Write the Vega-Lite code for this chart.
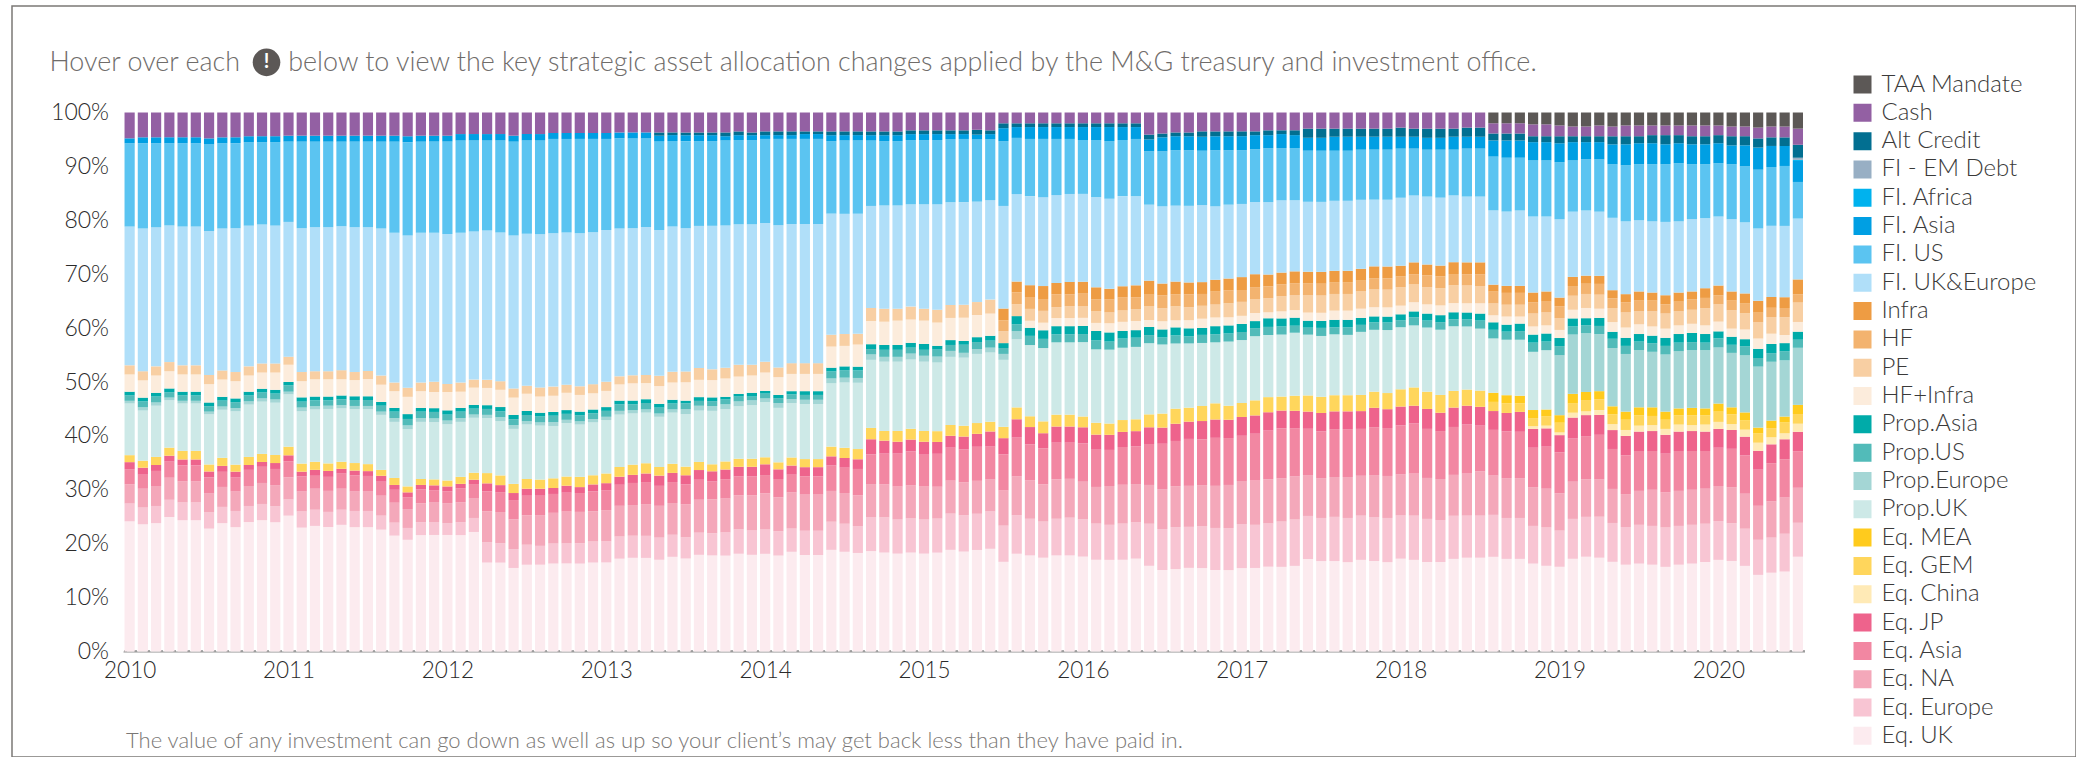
{"$schema":"https://vega.github.io/schema/vega-lite/v6.json","width":2064,"height":751,"autosize":"none","padding":{"left":12,"top":6,"right":0,"bottom":0},"background":"white","config":{"font":"Lato","view":{"stroke":"#7b7875","strokeWidth":1.5}},"title":{"text":"Hover over each \u2003\u2004\u2006 below to view the key strategic asset allocation changes applied by the M&G treasury and investment office.","anchor":"start","frame":"group","dx":37.5,"dy":28.5,"offset":-63.5,"baseline":"alphabetic","fontSize":26.9,"fontWeight":300,"color":"#6f6c6a"},"datasets":{"series":[{"key":"taa","label":"TAA Mandate","rank":24},{"key":"cash","label":"Cash","rank":23},{"key":"alt","label":"Alt Credit","rank":22},{"key":"fem","label":"FI - EM Debt","rank":21},{"key":"faf","label":"FI. Africa","rank":20},{"key":"fas","label":"FI. Asia","rank":19},{"key":"fus","label":"FI. US","rank":18},{"key":"fuk","label":"FI. UK&Europe","rank":17},{"key":"inf","label":"Infra","rank":16},{"key":"hf","label":"HF","rank":15},{"key":"pe","label":"PE","rank":14},{"key":"hfi","label":"HF+Infra","rank":13},{"key":"pas","label":"Prop.Asia","rank":12},{"key":"pus","label":"Prop.US","rank":11},{"key":"peu","label":"Prop.Europe","rank":10},{"key":"puk","label":"Prop.UK","rank":9},{"key":"mea","label":"Eq. MEA","rank":8},{"key":"gem","label":"Eq. GEM","rank":7},{"key":"cn","label":"Eq. China","rank":6},{"key":"jp","label":"Eq. JP","rank":5},{"key":"asia","label":"Eq. Asia","rank":4},{"key":"na","label":"Eq. NA","rank":3},{"key":"eur","label":"Eq. Europe","rank":2},{"key":"uk","label":"Eq. UK","rank":1}],"alloc":[
{"month":"2010-01","uk":24.2,"eur":3.3,"na":3.6,"asia":2.8,"jp":1.3,"gem":1.3,"puk":9.6,"peu":0.5,"pus":1,"pas":0.7,"hfi":3.2,"pe":1.7,"fuk":25.8,"fus":15.5,"fas":0.9,"cash":4.8},
{"month":"2010-02","uk":23.6,"eur":3.1,"na":3.5,"asia":2.6,"jp":1.3,"gem":1.3,"puk":9.3,"peu":0.6,"pus":1.1,"pas":0.7,"hfi":3.2,"pe":1.7,"fuk":26.5,"fus":15.8,"fas":1.1,"cash":4.6},
{"month":"2010-03","uk":23.8,"eur":3.2,"na":3.7,"asia":2.8,"jp":1.1,"gem":1.5,"puk":9.5,"peu":0.6,"pus":1.1,"pas":0.7,"hfi":3.2,"pe":1.7,"fuk":25.8,"fus":15.6,"fas":1.1,"cash":4.6},
{"month":"2010-04","uk":25,"eur":3.2,"na":4.1,"asia":3,"jp":1.1,"gem":1.5,"puk":8.8,"peu":0.5,"pus":1,"pas":0.7,"hfi":3.2,"pe":1.7,"fuk":25.4,"fus":15.3,"fas":1.1,"cash":4.6},
{"month":"2010-05","uk":24.4,"eur":3.3,"na":3.9,"asia":3,"jp":1.1,"gem":1.6,"puk":8.8,"peu":0.5,"pus":1,"pas":0.7,"hfi":3.2,"pe":1.7,"fuk":25.8,"fus":15.5,"fas":1.1,"cash":4.6},
{"month":"2010-06","uk":24.4,"eur":3.3,"na":3.9,"asia":3,"jp":1.1,"gem":1.6,"puk":8.8,"peu":0.5,"pus":1,"pas":0.7,"hfi":3.2,"pe":1.7,"fuk":25.8,"fus":15.5,"fas":1.1,"cash":4.6},
{"month":"2010-07","uk":22.8,"eur":3,"na":3.5,"asia":3,"jp":1.1,"gem":1.3,"puk":9.3,"peu":0.5,"pus":1,"pas":0.7,"hfi":3.4,"pe":1.7,"fuk":26.7,"fus":16.1,"fas":1.1,"cash":4.8},
{"month":"2010-08","uk":23.8,"eur":3,"na":3.7,"asia":2.8,"jp":1.1,"gem":1.5,"puk":8.9,"peu":0.6,"pus":1.1,"pas":0.7,"hfi":3.2,"pe":1.7,"fuk":26.3,"fus":15.8,"fas":1.1,"cash":4.6},
{"month":"2010-09","uk":23.1,"eur":3,"na":3.6,"asia":2.6,"jp":1.1,"gem":1.3,"puk":9.9,"peu":0.6,"pus":1.1,"pas":0.7,"hfi":3.2,"pe":1.7,"fuk":26.7,"fus":15.8,"fas":1.1,"cash":4.6},
{"month":"2010-10","uk":24,"eur":3,"na":3.7,"asia":3,"jp":0.9,"gem":1.5,"puk":9.7,"peu":0.6,"pus":1.1,"pas":0.7,"hfi":3,"pe":1.7,"fuk":26.1,"fus":15.5,"fas":1.1,"cash":4.4},
{"month":"2010-11","uk":24.4,"eur":3,"na":3.9,"asia":3,"jp":0.9,"gem":1.5,"puk":9.7,"peu":0.6,"pus":1.1,"pas":0.7,"hfi":3,"pe":1.7,"fuk":25.8,"fus":15.3,"fas":1.1,"cash":4.4},
{"month":"2010-12","uk":24,"eur":3,"na":3.9,"asia":3,"jp":1.1,"gem":1.5,"puk":9.7,"peu":0.6,"pus":1.1,"pas":0.7,"hfi":3.2,"pe":1.7,"fuk":25.6,"fus":15.5,"fas":1.1,"cash":4.4},
{"month":"2011-01","uk":25.2,"eur":3,"na":4.1,"asia":3,"jp":1.1,"gem":1.6,"puk":9.7,"peu":0.5,"pus":1.2,"pas":0.6,"hfi":3.2,"pe":1.5,"fuk":25,"fus":14.9,"fas":1.1,"cash":4.3},
{"month":"2011-02","uk":23,"eur":3,"na":3.7,"asia":2.8,"jp":0.9,"gem":1.5,"puk":9.7,"peu":0.7,"pus":1.1,"pas":0.8,"hfi":3,"pe":1.7,"fuk":26.7,"fus":16.1,"fas":1.1,"cash":4.3},
{"month":"2011-03","uk":23.3,"eur":3,"na":3.9,"asia":2.4,"jp":1.1,"gem":1.5,"puk":9.7,"peu":0.6,"pus":1.1,"pas":0.7,"hfi":3.2,"pe":1.5,"fuk":26.7,"fus":15.9,"fas":1.1,"cash":4.3},
{"month":"2011-04","uk":23.1,"eur":2.8,"na":3.9,"asia":2.6,"jp":1.1,"gem":1.4,"puk":10.1,"peu":0.6,"pus":1,"pas":0.7,"hfi":3.2,"pe":1.5,"fuk":26.7,"fus":15.9,"fas":1.1,"cash":4.3},
{"month":"2011-05","uk":23.5,"eur":2.8,"na":3.9,"asia":2.8,"jp":0.9,"gem":1.3,"puk":9.9,"peu":0.6,"pus":1.1,"pas":0.7,"hfi":3,"pe":1.7,"fuk":26.7,"fus":15.7,"fas":1.1,"cash":4.3},
{"month":"2011-06","uk":23.1,"eur":3,"na":3.6,"asia":3,"jp":0.9,"gem":1.4,"puk":10,"peu":0.6,"pus":1.1,"pas":0.7,"hfi":3,"pe":1.5,"fuk":26.9,"fus":15.9,"fas":1.1,"cash":4.3},
{"month":"2011-07","uk":23.1,"eur":3,"na":3.7,"asia":2.8,"jp":0.9,"gem":1.3,"puk":10.2,"peu":0.6,"pus":1.1,"pas":0.7,"hfi":3.2,"pe":1.5,"fuk":26.7,"fus":15.9,"fas":1.1,"cash":4.3},
{"month":"2011-08","uk":22.6,"eur":2.6,"na":3.7,"asia":2.6,"jp":1.1,"gem":1.1,"puk":10.2,"peu":0.6,"pus":1.1,"pas":0.7,"hfi":3.2,"pe":1.7,"fuk":27.3,"fus":16.1,"fas":1.1,"cash":4.3},
{"month":"2011-09","uk":21.5,"eur":2.4,"na":3.7,"asia":2.4,"jp":0.9,"gem":1.3,"puk":10.4,"peu":0.7,"pus":1.2,"pas":0.7,"hfi":3.1,"pe":1.6,"fuk":27.8,"fus":16.9,"fas":1.1,"cash":4.3},
{"month":"2011-10","uk":20.7,"eur":2.2,"na":3.5,"asia":2.2,"jp":0.9,"gem":1.1,"puk":10.6,"peu":0.7,"pus":1.2,"pas":0.9,"hfi":3.2,"pe":1.7,"fuk":28.2,"fus":17.3,"fas":1.1,"cash":4.4},
{"month":"2011-11","uk":21.6,"eur":2.4,"na":3.5,"asia":2.6,"jp":0.8,"gem":1.1,"puk":10.6,"peu":0.7,"pus":1.2,"pas":0.7,"hfi":3.1,"pe":1.6,"fuk":27.8,"fus":16.9,"fas":1.1,"cash":4.3},
{"month":"2011-12","uk":21.6,"eur":2.4,"na":3.7,"asia":2.2,"jp":0.9,"gem":1.1,"puk":10.6,"peu":0.7,"pus":1.2,"pas":0.7,"hfi":3,"pe":1.9,"fuk":27.6,"fus":16.9,"fas":1.1,"cash":4.3},
{"month":"2012-01","uk":21.6,"eur":2.2,"na":3.7,"asia":2.2,"jp":0.9,"gem":1.1,"puk":10.4,"peu":0.7,"pus":1.1,"pas":0.8,"hfi":3.4,"pe":1.5,"fuk":27.8,"fus":17.1,"fas":1.1,"cash":4.3},
{"month":"2012-02","uk":21.6,"eur":2.4,"na":3.7,"asia":2.6,"jp":0.8,"gem":1.3,"puk":10.2,"peu":0.7,"pus":1.2,"pas":0.7,"hfi":3,"pe":1.7,"fuk":27.8,"fus":17.1,"fas":1.2,"cash":4},
{"month":"2012-03","uk":22.2,"eur":2.6,"na":3.7,"asia":2.6,"jp":0.8,"gem":1.3,"puk":10.2,"peu":0.6,"pus":1.1,"pas":0.7,"hfi":3.2,"pe":1.5,"fuk":27.5,"fus":16.9,"fas":1.2,"cash":4},
{"month":"2012-04","uk":16.5,"eur":3.8,"na":5.7,"asia":3.7,"jp":1.5,"gem":1.9,"puk":10.2,"peu":0.6,"pus":1.1,"pas":0.7,"hfi":3.2,"pe":1.5,"fuk":27.7,"fus":16.7,"fas":1.2,"cash":4},
{"month":"2012-05","uk":16.5,"eur":3.6,"na":5.8,"asia":3.7,"jp":1.3,"gem":1.8,"puk":10.1,"peu":0.7,"pus":1.1,"pas":0.8,"hfi":3.2,"pe":1.6,"fuk":27.6,"fus":17.1,"fas":1.2,"cash":4},
{"month":"2012-06","uk":15.5,"eur":3.5,"na":5.5,"asia":3.6,"jp":1.3,"gem":1.7,"puk":10.2,"peu":0.7,"pus":1.1,"pas":0.8,"hfi":3.2,"pe":1.7,"fuk":28.4,"fus":17.4,"fas":1.1,"cash":4.3},
{"month":"2012-07","uk":16.1,"eur":3.7,"na":5.5,"asia":3.6,"jp":1.3,"gem":1.8,"puk":10.1,"peu":0.6,"pus":1.2,"pas":0.7,"hfi":3.2,"pe":1.5,"fuk":28.2,"fus":17.3,"fas":1.2,"cash":4},
{"month":"2012-08","uk":16.1,"eur":3.5,"na":5.7,"asia":3.6,"jp":1.3,"gem":1.7,"puk":10,"peu":0.6,"pus":1.1,"pas":0.7,"hfi":3,"pe":1.7,"fuk":28.4,"fus":17.4,"fas":1.2,"cash":4},
{"month":"2012-09","uk":16.3,"eur":3.7,"na":5.7,"asia":3.5,"jp":1.1,"gem":1.8,"puk":9.7,"peu":0.7,"pus":1.2,"pas":0.7,"hfi":3,"pe":1.7,"fuk":28.4,"fus":17.5,"fas":1.1,"cash":3.8},
{"month":"2012-10","uk":16.3,"eur":3.7,"na":5.9,"asia":3.5,"jp":1.3,"gem":1.7,"puk":9.9,"peu":0.6,"pus":1.1,"pas":0.7,"hfi":3.2,"pe":1.5,"fuk":28.2,"fus":17.3,"fas":1.1,"cash":3.8},
{"month":"2012-11","uk":16.3,"eur":3.8,"na":5.8,"asia":3.5,"jp":1.1,"gem":1.9,"puk":9.7,"peu":0.6,"pus":1.1,"pas":0.7,"hfi":3.1,"pe":1.6,"fuk":28.4,"fus":17.5,"fas":1.1,"cash":3.8},
{"month":"2012-12","uk":16.5,"eur":3.9,"na":5.6,"asia":3.7,"jp":1.3,"gem":1.7,"puk":9.8,"peu":0.6,"pus":1.1,"pas":0.7,"hfi":3,"pe":1.7,"fuk":28.2,"fus":17.3,"fas":1.1,"cash":3.8},
{"month":"2013-01","uk":16.5,"eur":3.9,"na":5.8,"asia":3.7,"jp":1.3,"gem":1.8,"puk":9.9,"peu":0.6,"pus":1.1,"pas":0.7,"hfi":3,"pe":1.7,"fuk":28.1,"fus":16.9,"fas":1.1,"cash":3.8},
{"month":"2013-02","uk":17.2,"eur":4.1,"na":5.7,"asia":3.9,"jp":1.5,"gem":1.8,"puk":9.7,"peu":0.7,"pus":1.2,"pas":0.7,"hfi":3,"pe":1.5,"fuk":27.4,"fus":16.7,"fas":1.1,"cash":3.7},
{"month":"2013-03","uk":17.4,"eur":4.1,"na":5.7,"asia":4.1,"jp":1.5,"gem":1.9,"puk":9.5,"peu":0.6,"pus":1.1,"pas":0.7,"hfi":3.2,"pe":1.5,"fuk":27.3,"fus":16.7,"fas":1.1,"cash":3.7},
{"month":"2013-04","uk":17.4,"eur":4.1,"na":5.9,"asia":4.1,"jp":1.6,"gem":1.9,"puk":9.4,"peu":0.6,"pus":1.2,"pas":0.7,"hfi":3,"pe":1.5,"fuk":27.5,"fus":16.5,"fas":1.1,"cash":3.7},
{"month":"2013-05","uk":17,"eur":4.1,"na":5.9,"asia":3.7,"jp":1.9,"gem":1.6,"puk":9.3,"peu":0.6,"pus":1.1,"pas":0.7,"hfi":3.3,"pe":1.9,"fuk":27,"fus":16.5,"fas":1,"alt":0.6,"cash":3.7},
{"month":"2013-06","uk":17.6,"eur":4.1,"na":5.9,"asia":3.9,"jp":1.7,"gem":1.7,"puk":9.5,"peu":0.6,"pus":1.1,"pas":0.7,"hfi":3.2,"pe":2,"fuk":27,"fus":15.9,"fas":1.1,"alt":0.5,"cash":3.7},
{"month":"2013-07","uk":17.2,"eur":3.9,"na":6.1,"asia":3.7,"jp":1.7,"gem":1.6,"puk":9.7,"peu":0.9,"pus":1.1,"pas":0.5,"hfi":3.4,"pe":2,"fuk":26.5,"fus":16.1,"fas":1.1,"alt":0.5,"cash":3.7},
{"month":"2013-08","uk":17.9,"eur":4.1,"na":6.1,"asia":3.7,"jp":1.8,"gem":1.5,"puk":9.5,"peu":0.9,"pus":0.9,"pas":0.7,"hfi":3.2,"pe":2.2,"fuk":26.3,"fus":15.7,"fas":1.1,"alt":0.5,"cash":3.7},
{"month":"2013-09","uk":17.8,"eur":4.1,"na":6.3,"asia":3.3,"jp":1.9,"gem":1.3,"puk":9.9,"peu":0.9,"pus":0.9,"pas":0.7,"hfi":3.2,"pe":2,"fuk":26.6,"fus":15.7,"fas":1.1,"alt":0.5,"cash":3.7},
{"month":"2013-10","uk":17.8,"eur":4.3,"na":6.3,"asia":3.6,"jp":1.8,"gem":1.5,"puk":9.7,"peu":0.9,"pus":0.9,"pas":0.5,"hfi":3.4,"pe":2,"fuk":26.4,"fus":15.8,"fas":0.8,"alt":0.7,"cash":3.7},
{"month":"2013-11","uk":18.1,"eur":4.5,"na":6.3,"asia":3.5,"jp":1.8,"gem":1.5,"puk":9.7,"peu":0.9,"pus":0.9,"pas":0.5,"hfi":3.2,"pe":2.2,"fuk":26,"fus":15.6,"fas":0.9,"alt":0.7,"cash":3.5},
{"month":"2013-12","uk":17.9,"eur":4.5,"na":6.5,"asia":3.5,"jp":1.8,"gem":1.5,"puk":9.9,"peu":0.9,"pus":0.7,"pas":0.7,"hfi":3.2,"pe":2,"fuk":26,"fus":15.6,"fas":0.9,"alt":0.5,"cash":3.7},
{"month":"2014-01","uk":18.1,"eur":4.5,"na":6.7,"asia":3.4,"jp":2,"gem":1.3,"puk":10.2,"peu":0.7,"pus":0.9,"pas":0.5,"hfi":3.4,"pe":2,"fuk":25.7,"fus":15.6,"fas":0.7,"alt":0.7,"cash":3.5},
{"month":"2014-02","uk":17.8,"eur":4.5,"na":6.3,"asia":3.4,"jp":1.8,"gem":1.3,"puk":10.1,"peu":0.9,"pus":0.9,"pas":0.6,"hfi":3.3,"pe":1.8,"fuk":26.4,"fus":16,"fas":0.7,"alt":0.7,"cash":3.5},
{"month":"2014-03","uk":18.5,"eur":4.3,"na":6.7,"asia":3.3,"jp":1.7,"gem":1.5,"puk":10.1,"peu":0.7,"pus":0.9,"pas":0.6,"hfi":3.2,"pe":2,"fuk":25.8,"fus":15.8,"fas":0.7,"alt":0.7,"cash":3.5},
{"month":"2014-04","uk":17.9,"eur":4.5,"na":6.7,"asia":3.4,"jp":1.7,"gem":1.5,"puk":10.2,"peu":0.8,"pus":0.9,"pas":0.7,"hfi":3.2,"pe":2,"fuk":25.8,"fus":15.8,"fas":0.9,"alt":0.5,"cash":3.5},
{"month":"2014-05","uk":17.9,"eur":4.5,"na":6.7,"asia":3.4,"jp":1.7,"gem":1.5,"puk":10.2,"peu":0.8,"pus":0.9,"pas":0.7,"hfi":3.2,"pe":2,"fuk":25.8,"fus":15.8,"fas":0.9,"alt":0.5,"cash":3.5},
{"month":"2014-06","uk":18.8,"eur":5.2,"na":5.7,"asia":4.7,"jp":1.7,"gem":1.8,"puk":11.7,"peu":0.9,"pus":1.3,"pas":0.7,"hfi":3.9,"pe":2.2,"fuk":22.4,"fus":13.4,"fas":1.1,"alt":0.7,"cash":3.5},
{"month":"2014-07","uk":18.5,"eur":5.2,"na":5.7,"asia":4.7,"jp":1.8,"gem":1.9,"puk":12.1,"peu":0.9,"pus":1.4,"pas":0.7,"hfi":3.8,"pe":2.2,"fuk":22.3,"fus":13.6,"fas":1,"alt":0.7,"cash":3.5},
{"month":"2014-08","uk":18.3,"eur":5,"na":5.7,"asia":4.9,"jp":1.8,"gem":1.9,"puk":12.3,"peu":0.9,"pus":1.4,"pas":0.7,"hfi":4.1,"pe":2,"fuk":22.3,"fus":13.6,"fas":1,"alt":0.7,"cash":3.5},
{"month":"2014-09","uk":18.6,"eur":6.3,"na":6.1,"asia":5.5,"jp":2.8,"gem":2.1,"puk":12.6,"peu":1,"pus":1,"pas":0.9,"hfi":4.3,"pe":2.4,"fuk":18.9,"fus":12.1,"fas":1,"alt":0.7,"cash":3.5},
{"month":"2014-10","uk":18.3,"eur":6.5,"na":6.1,"asia":5.7,"jp":2.4,"gem":1.8,"puk":12.8,"peu":0.9,"pus":1.3,"pas":0.9,"hfi":4.3,"pe":2.4,"fuk":19.1,"fus":11.9,"fas":1.1,"alt":0.7,"cash":3.5},
{"month":"2014-11","uk":18.1,"eur":6.3,"na":6.1,"asia":6.1,"jp":2.2,"gem":2,"puk":12.8,"peu":0.9,"pus":1.3,"pas":0.9,"hfi":4.5,"pe":2.2,"fuk":19.1,"fus":11.9,"fas":1.1,"alt":0.7,"cash":3.5},
{"month":"2014-12","uk":18.3,"eur":6.3,"na":6.1,"asia":6.3,"jp":2.2,"gem":2,"puk":12.8,"peu":1.1,"pus":1.1,"pas":0.9,"hfi":4.3,"pe":2.4,"fuk":18.9,"fus":11.9,"fas":1.1,"alt":0.7,"cash":3.3},
{"month":"2015-01","uk":18.1,"eur":6.3,"na":6.1,"asia":5.9,"jp":2.4,"gem":2,"puk":12.8,"peu":1.1,"pus":1.1,"pas":1.1,"hfi":4.3,"pe":2.2,"fuk":19.3,"fus":11.9,"fas":1.1,"alt":0.7,"cash":3.3},
{"month":"2015-02","uk":18.3,"eur":6.3,"na":5.9,"asia":6.1,"jp":2.2,"gem":2,"puk":12.7,"peu":1.1,"pus":1.3,"pas":0.7,"hfi":4.3,"pe":2.4,"fuk":19.5,"fus":11.9,"fas":1.1,"alt":0.7,"cash":3.3},
{"month":"2015-03","uk":18.8,"eur":6.7,"na":6.1,"asia":6.1,"jp":2.2,"gem":2,"puk":12.6,"peu":1.1,"pus":1.1,"pas":0.9,"hfi":4.1,"pe":2.4,"fuk":19,"fus":11.7,"fas":0.9,"alt":0.7,"cash":3.3},
{"month":"2015-04","uk":18.5,"eur":6.7,"na":6.1,"asia":6.1,"jp":2.4,"gem":2,"puk":12.6,"peu":0.9,"pus":1.5,"pas":0.7,"hfi":4.3,"pe":2.4,"fuk":19,"fus":11.7,"fas":0.9,"alt":0.7,"cash":3.3},
{"month":"2015-05","uk":18.8,"eur":6.7,"na":6.1,"asia":6.3,"jp":2.4,"gem":2,"puk":12.8,"peu":0.9,"pus":1.3,"pas":0.9,"hfi":4.1,"pe":2.4,"fuk":18.6,"fus":11.5,"fas":0.9,"alt":0.9,"cash":3.2},
{"month":"2015-06","uk":19,"eur":6.9,"na":5.9,"asia":6.1,"jp":2.8,"gem":1.8,"puk":12.8,"peu":0.9,"pus":1.3,"pas":0.9,"hfi":4.1,"pe":2.6,"fuk":18.4,"fus":11.3,"fas":0.9,"alt":0.7,"cash":3.3},
{"month":"2015-07","uk":16.6,"eur":6.7,"na":6.5,"asia":6.7,"jp":3,"gem":2.1,"puk":12.4,"peu":1.1,"pus":1.1,"pas":0.9,"pe":2.2,"hf":2,"inf":2.2,"fuk":19,"fus":12,"fas":2.4,"alt":0.9,"cash":2},
{"month":"2015-08","uk":18.1,"eur":7.1,"na":7.2,"asia":7.2,"jp":3.4,"gem":2.2,"puk":12.6,"peu":1.5,"pus":1.3,"pas":1.5,"pe":2.2,"hf":2.2,"inf":2,"fuk":16.2,"fus":10.4,"fas":2,"alt":0.7,"cash":2},
{"month":"2015-09","uk":17.8,"eur":6.8,"na":7.1,"asia":6.7,"jp":3.2,"gem":2,"puk":13.2,"pus":1.7,"pas":1.5,"hfi":1.3,"pe":2.2,"hf":2.2,"inf":2.2,"fuk":16.5,"fus":10.6,"fas":2.2,"alt":0.7,"cash":2},
{"month":"2015-10","uk":17.4,"eur":6.7,"na":6.9,"asia":6.7,"jp":2.8,"gem":2.2,"puk":13.6,"pus":1.7,"pas":1.6,"hfi":1.4,"pe":2.2,"hf":2.2,"inf":2.4,"fuk":16.5,"fus":10.8,"fas":2.2,"alt":0.7,"cash":2},
{"month":"2015-11","uk":17.8,"eur":6.8,"na":7.3,"asia":6.8,"jp":3,"gem":2.2,"puk":13.4,"pus":1.5,"pas":1.5,"hfi":1.5,"pe":2,"hf":2.4,"inf":2.1,"fuk":16.3,"fus":10.4,"fas":2.2,"alt":0.7,"cash":2},
{"month":"2015-12","uk":17.8,"eur":7,"na":7.2,"asia":6.7,"jp":3,"gem":2.2,"puk":13.4,"pus":1.5,"pas":1.5,"hfi":1.5,"pe":2.2,"hf":2.2,"inf":2.3,"fuk":16.3,"fus":10.2,"fas":2.2,"alt":0.7,"cash":2},
{"month":"2016-01","uk":17.6,"eur":6.9,"na":7,"asia":7.1,"jp":3,"gem":2,"puk":13.8,"pus":1.5,"pas":1.5,"hfi":1.5,"pe":2.2,"hf":2.4,"inf":2.1,"fuk":16.3,"fus":10,"fas":2.4,"alt":0.7,"cash":2},
{"month":"2016-02","uk":17,"eur":6.7,"na":6.8,"asia":6.9,"jp":2.8,"gem":2.2,"puk":13.6,"pus":1.7,"pas":1.7,"hfi":1.5,"pe":2.2,"hf":2.2,"inf":2.2,"fuk":16.7,"fus":10.6,"fas":2.4,"alt":0.7,"cash":2},
{"month":"2016-03","uk":17,"eur":6.5,"na":7.2,"asia":6.7,"jp":2.8,"gem":2.1,"puk":13.7,"pus":1.5,"pas":1.7,"hfi":1.7,"pe":2,"hf":2.4,"inf":2,"fuk":16.7,"fus":10.7,"fas":2.6,"alt":0.7,"cash":2},
{"month":"2016-04","uk":17,"eur":6.7,"na":7.2,"asia":7,"jp":2.8,"gem":2.2,"puk":13.4,"pus":1.7,"pas":1.4,"hfi":1.7,"pe":2.1,"hf":2.4,"inf":2.1,"fuk":16.7,"fus":10.4,"fas":2.4,"alt":0.7,"cash":2},
{"month":"2016-05","uk":17.2,"eur":6.7,"na":7.1,"asia":7,"jp":2.8,"gem":2.2,"puk":13.4,"pus":1.7,"pas":1.4,"hfi":1.7,"pe":2.2,"hf":2.2,"inf":2.2,"fuk":16.5,"fus":10.6,"fas":2.2,"alt":0.7,"cash":2},
{"month":"2016-06","uk":15.9,"eur":7.8,"na":7.2,"asia":7.6,"jp":3.1,"gem":2.4,"puk":13.2,"pus":1.5,"pas":1.5,"hfi":1.3,"pe":2.6,"hf":2.1,"inf":2.6,"fuk":14.1,"fus":9.9,"fas":2.2,"alt":0.9,"cash":4.1},
{"month":"2016-07","uk":15.1,"eur":7.6,"na":7.4,"asia":8.4,"jp":3,"gem":2.6,"puk":12.8,"pus":1.3,"pas":1.5,"hfi":1.5,"pe":2.4,"hf":2.4,"inf":2.2,"fuk":14.3,"fus":10.2,"fas":2.6,"alt":0.7,"cash":3.9},
{"month":"2016-08","uk":15.3,"eur":7.8,"na":7.6,"asia":8.4,"jp":3.2,"gem":2.8,"puk":12.1,"pus":1.5,"pas":1.5,"hfi":1.3,"pe":2.6,"hf":2.2,"inf":2.4,"fuk":14.1,"fus":10.3,"fas":2.6,"alt":0.7,"cash":3.7},
{"month":"2016-09","uk":15.5,"eur":7.6,"na":7.6,"asia":8.7,"jp":3.2,"gem":2.6,"puk":11.9,"pus":1.3,"pas":1.5,"hfi":1.5,"pe":2.4,"hf":2.4,"inf":2.2,"fuk":14.2,"fus":10.3,"fas":2.6,"alt":0.7,"cash":3.7},
{"month":"2016-10","uk":15.5,"eur":7.8,"na":7.6,"asia":8.5,"jp":3.4,"gem":2.8,"puk":11.7,"pus":1.5,"pas":1.3,"hfi":1.7,"pe":2.4,"hf":2.2,"inf":2.2,"fuk":14.3,"fus":10.1,"fas":2.6,"alt":1,"cash":3.5},
{"month":"2016-11","uk":15.1,"eur":7.8,"na":7.8,"asia":8.9,"jp":3.4,"gem":3,"puk":11.3,"pus":1.5,"pas":1.5,"hfi":1.6,"pe":2.4,"hf":2.4,"inf":2.2,"fuk":13.6,"fus":10.4,"fas":2.6,"alt":0.9,"cash":3.5},
{"month":"2016-12","uk":15.1,"eur":7.8,"na":8,"asia":8.7,"jp":3.4,"gem":2.6,"puk":11.9,"pus":1.5,"pas":1.5,"hfi":1.5,"pe":2.6,"hf":2.4,"inf":2.2,"fuk":13.7,"fus":10.1,"fas":2.6,"alt":0.9,"cash":3.5},
{"month":"2017-01","uk":15.5,"eur":8.2,"na":8,"asia":8.4,"jp":3.5,"gem":2.6,"puk":11.7,"pus":1.5,"pas":1.5,"hfi":1.5,"pe":2.6,"hf":2.2,"inf":2.4,"fuk":13.6,"fus":10,"fas":2.6,"alt":0.9,"cash":3.5},
{"month":"2017-02","uk":15.5,"eur":8,"na":8.2,"asia":8.7,"jp":3.4,"gem":2.8,"puk":11.9,"pus":1.5,"pas":1.3,"hfi":1.5,"pe":2.6,"hf":2.2,"inf":2.4,"fuk":13.4,"fus":9.8,"fas":2.6,"alt":0.7,"cash":3.5},
{"month":"2017-03","uk":15.7,"eur":8,"na":8.2,"asia":9,"jp":3.4,"gem":2.8,"puk":11.5,"pus":1.5,"pas":1.6,"hfi":1.1,"pe":2.6,"hf":2.2,"inf":2.2,"fuk":13.4,"fus":10,"fas":2.4,"alt":0.9,"cash":3.3},
{"month":"2017-04","uk":15.7,"eur":8.4,"na":8,"asia":9.3,"jp":3.3,"gem":2.6,"puk":11.5,"pus":1.5,"pas":1.5,"hfi":1.3,"pe":2.8,"hf":2.2,"inf":2.2,"fuk":13.4,"fus":9.7,"fas":2.6,"alt":0.7,"cash":3.3},
{"month":"2017-05","uk":15.9,"eur":8.6,"na":8,"asia":8.9,"jp":3.3,"gem":2.8,"puk":11.7,"pus":1.3,"pas":1.5,"hfi":1.4,"pe":2.8,"hf":2.2,"inf":2.2,"fuk":13.2,"fus":9.7,"fas":2.4,"alt":0.9,"cash":3.3},
{"month":"2017-06","uk":17.2,"eur":8,"na":7.6,"asia":8.6,"jp":3.2,"gem":3,"puk":11.3,"pus":1.3,"pas":1.3,"hfi":1.5,"pe":3.2,"hf":2.2,"inf":2.2,"fuk":13,"fus":9.5,"fas":2.4,"alt":1.7,"cash":3},
{"month":"2017-07","uk":16.8,"eur":8,"na":7.4,"asia":8.7,"jp":3.4,"gem":3,"puk":11.3,"pus":1.5,"pas":1.3,"hfi":1.5,"pe":3.2,"hf":2.2,"inf":2.2,"fuk":13,"fus":9.5,"fas":2.4,"alt":1.7,"cash":3},
{"month":"2017-08","uk":16.8,"eur":8.2,"na":7.4,"asia":8.9,"jp":3.3,"gem":3,"puk":11.3,"pus":1.3,"pas":1.4,"hfi":1.7,"pe":3.1,"hf":2.2,"inf":2.1,"fuk":13,"fus":9.3,"fas":2.6,"alt":1.5,"cash":3},
{"month":"2017-09","uk":16.6,"eur":8.2,"na":7.6,"asia":8.9,"jp":3.3,"gem":3,"puk":11.2,"pus":1.4,"pas":1.4,"hfi":1.7,"pe":3.1,"hf":2.2,"inf":2.1,"fuk":13,"fus":9.3,"fas":2.6,"alt":1.5,"cash":3},
{"month":"2017-10","uk":17,"eur":8.2,"na":7.4,"asia":8.7,"jp":3.3,"gem":3,"puk":11.7,"pus":1.3,"pas":1.3,"hfi":1.7,"pe":3.2,"hf":2,"inf":2.2,"fuk":12.8,"fus":9.3,"fas":2.4,"alt":1.5,"cash":3},
{"month":"2017-11","uk":16.8,"eur":8.2,"na":7.8,"asia":8.9,"jp":3.6,"gem":3,"puk":11.5,"pus":1.4,"pas":1.1,"hfi":1.7,"pe":3.3,"hf":2.1,"inf":2.2,"fuk":12.4,"fus":9.3,"fas":2.4,"alt":1.5,"cash":3},
{"month":"2017-12","uk":16.6,"eur":8.2,"na":7.8,"asia":8.9,"jp":3.5,"gem":3,"puk":11.7,"pus":1.4,"pas":1.1,"hfi":1.7,"pe":3.3,"hf":2.1,"inf":2.2,"fuk":12.4,"fus":9.3,"fas":2.4,"alt":1.5,"cash":3},
{"month":"2018-01","uk":17.2,"eur":8,"na":7.6,"asia":9.1,"jp":3.5,"gem":3.2,"puk":11.5,"pus":1.3,"pas":1.1,"hfi":1.6,"pe":3.4,"hf":2,"inf":2,"fuk":12.6,"fus":9.1,"fas":2.2,"alt":1.7,"cash":2.8},
{"month":"2018-02","uk":17,"eur":8.2,"na":7.8,"asia":9.3,"jp":3.3,"gem":3.4,"puk":11.5,"pus":1.5,"pas":1.1,"hfi":1.7,"pe":3.3,"hf":1.9,"inf":2.2,"fuk":12.4,"fus":8.7,"fas":2.2,"alt":1.5,"cash":3},
{"month":"2018-03","uk":16.6,"eur":8,"na":7.6,"asia":9.1,"jp":3.7,"gem":3.2,"puk":11.9,"pus":1.3,"pas":1.3,"hfi":1.7,"pe":3.2,"hf":2.2,"inf":2,"fuk":12.6,"fus":8.7,"fas":2.2,"alt":1.7,"cash":3},
{"month":"2018-04","uk":16.6,"eur":7.8,"na":7.6,"asia":8.9,"jp":3.4,"gem":3.3,"puk":12.1,"pus":1.4,"pas":1.3,"hfi":1.8,"pe":3.2,"hf":2.2,"inf":2,"fuk":12.6,"fus":8.9,"fas":2.2,"alt":1.7,"cash":3},
{"month":"2018-05","uk":17.2,"eur":8,"na":7.6,"asia":8.9,"jp":3.6,"gem":3.1,"puk":12,"pus":1.3,"pas":1.3,"hfi":1.7,"pe":3.3,"hf":2.1,"inf":2.2,"fuk":12.4,"fus":8.5,"fas":2.4,"alt":1.5,"cash":3},
{"month":"2018-06","uk":17.4,"eur":7.8,"na":7.8,"asia":9.1,"jp":3.5,"gem":3,"puk":11.7,"pus":1.3,"pas":1.3,"hfi":1.7,"pe":3.3,"hf":2.1,"inf":2.2,"fuk":12.2,"fus":8.9,"fas":2.2,"alt":1.7,"cash":2.8},
{"month":"2018-07","uk":17.4,"eur":7.8,"na":8.2,"asia":8.5,"jp":3.5,"gem":3,"puk":11.5,"pus":1.5,"pas":1.3,"hfi":1.9,"pe":3.2,"hf":2.2,"inf":2.2,"fuk":12.2,"fus":8.9,"fas":2.2,"alt":1.7,"cash":2.8},
{"month":"2018-08","uk":17.6,"eur":7.8,"na":7.3,"asia":8.5,"jp":3.5,"gem":1.7,"mea":1.7,"puk":10.1,"pus":1.6,"pas":1.4,"hfi":1.3,"pe":2.2,"hf":2.2,"inf":1.3,"fuk":13.8,"fus":10,"fas":3,"alt":1.3,"cash":1.9,"taa":2},
{"month":"2018-09","uk":17.2,"eur":7.6,"na":7.4,"asia":8.7,"jp":3.4,"gem":1.8,"mea":1.5,"puk":10.3,"pus":1.5,"pas":1.3,"hfi":1.5,"pe":2.2,"hf":2.2,"inf":1.3,"fuk":13.8,"fus":10,"fas":3.2,"alt":1.3,"cash":1.9,"taa":2},
{"month":"2018-10","uk":17.2,"eur":7.6,"na":7.4,"asia":8.6,"jp":3.7,"gem":1.6,"mea":1.4,"puk":10.4,"pus":1.6,"pas":1.4,"hfi":1.3,"pe":2.2,"hf":2.2,"inf":1.3,"fuk":14,"fus":9.8,"fas":3.2,"alt":1.3,"cash":1.9,"taa":2},
{"month":"2018-11","uk":16.3,"eur":7,"na":7.2,"asia":7.3,"jp":3.5,"cn":0.5,"gem":1.5,"mea":1.5,"puk":10.8,"pus":1.7,"pas":1.5,"hfi":1.5,"pe":2.4,"hf":2.1,"inf":1.8,"fuk":14.1,"fus":10.4,"fas":3.4,"alt":1.1,"cash":2.2,"taa":2.2},
{"month":"2018-12","uk":15.9,"eur":7.1,"na":7.2,"asia":7.8,"jp":3.4,"cn":0.5,"gem":1.7,"mea":1.3,"puk":11,"pus":1.6,"pas":1.5,"hfi":1.5,"pe":2.4,"hf":2,"inf":1.9,"fuk":13.9,"fus":10.4,"fas":3.4,"alt":1.1,"cash":2.2,"taa":2.2},
{"month":"2019-01","uk":15.7,"eur":6.7,"na":6.9,"asia":7.6,"jp":3.2,"cn":0.5,"gem":1.8,"mea":1.4,"peu":11.1,"pus":1.7,"pas":1.5,"hfi":1.5,"pe":2.2,"hf":2.2,"inf":1.6,"fuk":14.5,"fus":10.6,"fas":3.5,"alt":1.3,"cash":2,"taa":2.4},
{"month":"2019-02","uk":17.2,"eur":7.4,"na":6.9,"asia":8,"jp":3.9,"cn":0.9,"gem":1.7,"mea":1.8,"peu":11,"pus":1.5,"pas":1.5,"hfi":1.6,"pe":2.6,"hf":1.8,"inf":1.7,"fuk":12.1,"fus":9.5,"fas":3.4,"alt":1.1,"cash":1.8,"taa":2.6},
{"month":"2019-03","uk":17.6,"eur":7.4,"na":7,"asia":8,"jp":3.9,"cn":0.7,"gem":2.1,"mea":1.5,"peu":10.9,"pus":1.5,"pas":1.3,"hfi":1.9,"pe":2.6,"hf":1.9,"inf":1.5,"fuk":12.1,"fus":9.5,"fas":3.2,"alt":1.1,"cash":1.8,"taa":2.6},
{"month":"2019-04","uk":17.4,"eur":7.6,"na":6.9,"asia":8.3,"jp":3.7,"cn":0.9,"gem":2,"mea":1.5,"peu":10.6,"pus":1.5,"pas":1.5,"hfi":1.7,"pe":2.6,"hf":2,"inf":1.5,"fuk":11.9,"fus":9.7,"fas":3.2,"alt":1.1,"cash":2,"taa":2.4},
{"month":"2019-05","uk":16.6,"eur":7.2,"na":6.3,"asia":7.4,"jp":3.5,"cn":1.1,"gem":1.8,"mea":1.5,"peu":10.8,"pus":1.7,"pas":1.3,"hfi":1.8,"pe":2.6,"hf":1.8,"inf":1.5,"fuk":13.4,"fus":9.9,"fas":3.7,"alt":1.5,"cash":1.8,"taa":2.6},
{"month":"2019-06","uk":16.1,"eur":7,"na":6.1,"asia":7.2,"jp":3.6,"cn":1.1,"gem":1.9,"mea":1.5,"peu":10.7,"pus":1.5,"pas":1.5,"hfi":1.9,"pe":2.8,"hf":1.9,"inf":1.5,"fuk":13.5,"fus":10.4,"fas":3.9,"alt":1.5,"cash":2,"taa":2.4},
{"month":"2019-07","uk":16.3,"eur":7.2,"na":6.3,"asia":7.4,"jp":3.6,"cn":1.1,"gem":1.9,"mea":1.5,"peu":10.6,"pus":1.6,"pas":1.4,"hfi":1.8,"pe":2.4,"hf":2,"inf":1.7,"fuk":13.2,"fus":10.4,"fas":3.9,"alt":1.3,"cash":2,"taa":2.4},
{"month":"2019-08","uk":16.1,"eur":7.2,"na":6.7,"asia":7.2,"jp":3.7,"cn":1.1,"gem":1.7,"mea":1.6,"peu":10.3,"pus":1.6,"pas":1.4,"hfi":1.7,"pe":2.8,"hf":2,"inf":1.5,"fuk":13.2,"fus":10.6,"fas":3.9,"alt":1.5,"cash":1.8,"taa":2.4},
{"month":"2019-09","uk":15.7,"eur":7.3,"na":6.5,"asia":7.2,"jp":3.5,"cn":1.1,"gem":1.7,"mea":1.5,"peu":10.6,"pus":1.6,"pas":1.5,"hfi":1.7,"pe":2.8,"hf":1.7,"inf":1.7,"fuk":13.6,"fus":10.7,"fas":3.7,"alt":1.7,"cash":1.8,"taa":2.4},
{"month":"2019-10","uk":16.1,"eur":7.2,"na":6.5,"asia":7.4,"jp":3.6,"cn":1.3,"gem":1.7,"mea":1.3,"peu":10.6,"pus":1.6,"pas":1.6,"hfi":1.6,"pe":2.6,"hf":1.8,"inf":1.7,"fuk":13.2,"fus":10.8,"fas":3.7,"alt":1.5,"cash":1.8,"taa":2.4},
{"month":"2019-11","uk":16.3,"eur":7.2,"na":6.5,"asia":7.2,"jp":3.7,"cn":1.1,"gem":1.8,"mea":1.4,"peu":10.7,"pus":1.5,"pas":1.7,"hfi":1.7,"pe":2.6,"hf":1.9,"inf":1.5,"fuk":13.4,"fus":10.2,"fas":3.7,"alt":1.5,"cash":2,"taa":2.4},
{"month":"2019-12","uk":16.6,"eur":7.1,"na":6.5,"asia":7,"jp":3.6,"cn":1.3,"gem":1.7,"mea":1.3,"peu":10.8,"pus":1.4,"pas":1.6,"hfi":1.6,"pe":3.2,"hf":1.9,"inf":1.8,"fuk":13,"fus":10,"fas":3.7,"alt":1.5,"cash":2,"taa":2.4},
{"month":"2020-01","uk":17,"eur":7.2,"na":6.5,"asia":7.1,"jp":3.5,"cn":1.3,"gem":1.9,"mea":1.5,"peu":10.4,"pus":1.7,"pas":1.3,"hfi":1.8,"pe":3.2,"hf":1.7,"inf":1.8,"fuk":12.8,"fus":9.9,"fas":3.7,"alt":1.5,"cash":1.8,"taa":2.4},
{"month":"2020-02","uk":16.8,"eur":7,"na":6.7,"asia":7.1,"jp":3.5,"cn":1.1,"gem":1.8,"mea":1.3,"peu":10.1,"pus":1.5,"pas":1.5,"hfi":1.5,"pe":3.4,"hf":1.8,"inf":1.7,"fuk":13.4,"fus":10.2,"fas":3.5,"alt":1.7,"cash":1.8,"taa":2.6},
{"month":"2020-03","uk":15.9,"eur":6.9,"na":6.5,"asia":7.1,"jp":3.5,"cn":1.3,"gem":1.7,"mea":1.5,"peu":10.6,"pus":1.7,"pas":1.3,"hfi":1.8,"pe":3,"hf":1.9,"inf":1.8,"fuk":13.2,"fus":10.4,"fas":3.9,"alt":1.7,"cash":1.8,"taa":2.6},
{"month":"2020-04","uk":14.2,"eur":6.5,"na":6.3,"asia":6.7,"jp":3.5,"cn":1.5,"gem":1.7,"mea":1.1,"peu":11.3,"pus":1.6,"pas":1.7,"hfi":1.9,"pe":3,"hf":1.8,"inf":2.2,"fuk":13.4,"fus":10.9,"fas":4.1,"alt":1.7,"cash":2,"taa":2.8},
{"month":"2020-05","uk":14.6,"eur":6.5,"na":6.7,"asia":7.1,"jp":3.5,"cn":1.3,"gem":1.7,"mea":1.4,"peu":10.9,"pus":1.6,"pas":1.7,"hfi":1.9,"pe":3.1,"hf":1.7,"inf":2,"fuk":13.2,"fus":10.9,"fas":3.9,"alt":1.6,"cash":2,"taa":2.6},
{"month":"2020-06","uk":14.8,"eur":7,"na":6.7,"asia":7.1,"jp":3.7,"cn":1.1,"gem":2,"mea":1.1,"peu":10.4,"pus":1.7,"pas":1.5,"hfi":1.5,"pe":3.3,"hf":1.7,"inf":2,"fuk":13.2,"fus":11.1,"fas":3.7,"alt":1.6,"cash":2,"taa":2.6},
{"month":"2020-07","uk":17.6,"eur":6.3,"na":6.5,"asia":6.8,"jp":3.6,"cn":1.5,"gem":1.8,"mea":1.7,"peu":10.6,"pus":1.5,"pas":1.5,"hfi":1.8,"pe":3.6,"hf":1.5,"inf":2.8,"fuk":11.3,"fus":6.8,"fas":3.9,"faf":0.2,"fem":0.4,"alt":2.4,"cash":3,"taa":3}
]},"layer":[{"data":{"name":"alloc"},"transform":[{"fold":["uk","eur","na","asia","jp","cn","gem","mea","puk","peu","pus","pas","hfi","pe","hf","inf","fuk","fus","fas","faf","fem","alt","cash","taa"],"as":["key","share"]},{"filter":"isValid(datum.share)"},{"lookup":"key","from":{"data":{"name":"series"},"key":"key","fields":["label","rank"]}}],"mark":{"type":"bar"},"encoding":{"x":{"field":"month","type":"ordinal","scale":{"range":[111,1792.5],"paddingInner":0.23,"paddingOuter":0.115},"axis":{"orient":"bottom","offset":-105.5,"labelExpr":"slice(datum.label,5)=='01'?slice(datum.label,0,4):''","labelAngle":0,"labelOverlap":false,"labelFontSize":22.5,"labelFontWeight":300,"labelColor":"#2a2a2a","labelPadding":9,"labelBaseline":"top","tickBand":"extent","tickSize":-1.5,"tickWidth":3,"tickColor":"#555555","domainColor":"#b5b5b5","domainWidth":1.5,"title":"The value of any investment can go down as well as up so your client’s may get back less than they have paid in.","titleX":113.5,"titleY":96,"titleAlign":"left","titleBaseline":"alphabetic","titleFontSize":22,"titleFontWeight":300,"titleColor":"#7a7775"}},"y":{"field":"share","type":"quantitative","stack":"normalize","scale":{"domain":[0,1],"range":[645.5,106.5]},"axis":{"orient":"left","offset":-111,"values":[0,0.1,0.2,0.3,0.4,0.5,0.6,0.7,0.8,0.9,1],"format":".0%","domain":false,"ticks":false,"grid":false,"labelFontSize":23,"labelFontWeight":300,"labelColor":"#2a2a2a","labelPadding":14.5,"title":null}},"order":{"field":"rank","type":"quantitative"},"color":{"field":"label","type":"nominal","scale":{"domain":["TAA Mandate","Cash","Alt Credit","FI - EM Debt","FI. Africa","FI. Asia","FI. US","FI. UK&Europe","Infra","HF","PE","HF+Infra","Prop.Asia","Prop.US","Prop.Europe","Prop.UK","Eq. MEA","Eq. GEM","Eq. China","Eq. JP","Eq. Asia","Eq. NA","Eq. Europe","Eq. UK"],"range":["#5c5856","#9360a3","#026f91","#98afc4","#00b2ee","#009fe3","#5bc4f1","#b0dff9","#ee9c43","#f3b36f","#f8cfa3","#fcecdc","#00aba9","#52bbb9","#a4d6d5","#cde9e7","#ffcb1d","#ffd65c","#ffeab6","#ee638c","#f287a2","#f4a8ba","#f8c5d3","#fcebef"]},"legend":{"orient":"none","legendX":1838.5,"legendY":64.5,"title":null,"symbolType":"square","symbolSize":324,"symbolStrokeWidth":0,"symbolOpacity":1,"labelFontSize":24,"labelFontWeight":300,"labelColor":"#3a3a3a","labelOffset":7,"rowPadding":0.32,"clipHeight":28,"labelLimit":240}}}},{"data":{"values":[{"month":"2010-11","glyph":"!"}]},"mark":{"type":"point","filled":true,"opacity":1,"size":760,"color":"#5c5856","xOffset":4.5},"encoding":{"x":{"field":"month","type":"ordinal"},"y":{"datum":1.093}}},{"data":{"values":[{"month":"2010-11","glyph":"!"}]},"mark":{"type":"text","color":"white","fontWeight":"bold","fontSize":20,"xOffset":4.5,"baseline":"middle"},"encoding":{"x":{"field":"month","type":"ordinal"},"y":{"datum":1.093},"text":{"field":"glyph"}}}]}
